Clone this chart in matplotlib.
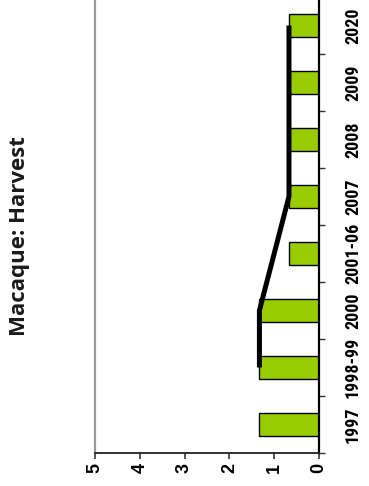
import numpy as np
import matplotlib
matplotlib.use("Agg")
import matplotlib.pyplot as plt

# datos del grafico (rotado 90 grados)
categorias = ["1997", "1998-99", "2000", "2001-06", "2007", "2008", "2009", "2020"]
cosecha = [1.33, 1.33, 1.33, 0.67, 0.67, 0.67, 0.67, 0.67]
tendencia = [np.nan, 1.33, 1.33, np.nan, 0.67, 0.67, 0.67, 0.67]
valores_eje = [0, 1, 2, 3, 4, 5]
titulo = "Macaque: Harvest"

F_NARROW = ["Roboto Condensed", "Liberation Sans", "DejaVu Sans"]
F_ARIAL = ["Liberation Sans", "DejaVu Sans"]
F_TIT = ["Open Sans", "Liberation Sans", "DejaVu Sans"]

fig = plt.figure(figsize=(3.69, 4.86), dpi=100)
ax = fig.add_axes([95 / 369, 33 / 486, 224 / 369, 456 / 486])

y = np.arange(len(categorias))
ax.barh(y, cosecha, height=0.42, color="#99cc00", edgecolor="black", linewidth=1.0, zorder=2)

m = ~np.isnan(np.array(tendencia))
ax.plot(np.array(tendencia)[m], y[m], color="black", linewidth=3.6, zorder=3,
        solid_capstyle="butt")

ax.set_xlim(5, 0)
ax.set_ylim(-0.5, len(categorias) - 0.5)

# eje de valores (abajo)
ax.set_xticks(valores_eje)
ax.set_xticklabels([str(v) for v in valores_eje], rotation=90, fontsize=13,
                   fontweight="bold", family=F_ARIAL)
ax.tick_params(axis="x", direction="out", length=4, width=1.2, color="#333333", pad=3)
for t in ax.get_xticklabels():
    t.set_va("top")
    t.set_ha("center")

# eje de categorias (derecha)
ax.yaxis.tick_right()
ax.set_yticks(np.arange(len(categorias) + 1) - 0.5, minor=False)
ax.set_yticklabels([])
ax.set_yticks(y, minor=True)
ax.set_yticklabels(categorias, minor=True, rotation=90, fontsize=13,
                   fontweight="bold", family=F_NARROW, va="center", ha="left")
ax.tick_params(axis="y", which="major", direction="out", length=4.3, width=1.0,
               color="#333333", right=True, left=False)
ax.tick_params(axis="y", which="minor", length=0, pad=18, right=True, left=False)

ax.spines["top"].set_visible(False)
ax.spines["left"].set_color("#999999")
ax.spines["left"].set_linewidth(1.6)
ax.spines["right"].set_color("black")
ax.spines["right"].set_linewidth(1.6)
ax.spines["bottom"].set_color("#222222")
ax.spines["bottom"].set_linewidth(1.3)

fig.text(20 / 369, 1 - 236 / 486, titulo, rotation=90, ha="center", va="center",
         fontsize=16, fontweight="bold", family=F_TIT, color="#1a1a1a")

fig.savefig("out.png", dpi=100)
